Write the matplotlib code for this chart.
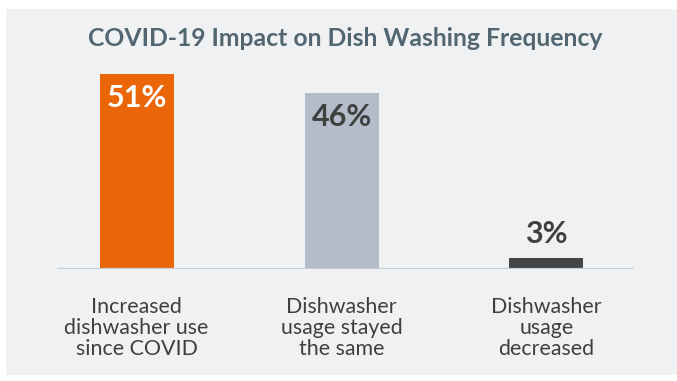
import matplotlib
matplotlib.use("Agg")
import matplotlib.pyplot as plt
from matplotlib.patches import Rectangle
import numpy as np

title = "COVID-19 Impact on Dish Washing Frequency"
categories = ["Increased\ndishwasher use\nsince COVID",
              "Dishwasher\nusage stayed\nthe same",
              "Dishwasher\nusage\ndecreased"]
values = [51, 46, 3]
value_labels = ["51%", "46%", "3%"]

bar_colors = ["#eb6608", "#b3bcc8", "#444547"]
label_colors = ["#ffffff", "#404040", "#404040"]
inside = [True, True, False]

W, H = 677, 381
fig = plt.figure(figsize=(W / 100, H / 100), dpi=100)
fig.patch.set_facecolor("white")

# panel background
fig.patches.append(Rectangle((6 / W, (H - 375) / H), 1 - 6 / W, (375 - 9) / H,
                             transform=fig.transFigure, facecolor="#f0f1f3",
                             edgecolor="none", zorder=-10))

ax_left, ax_right = 57, 634
ax_top, ax_bottom = 74, 269
ax = fig.add_axes([ax_left / W, (H - ax_bottom) / H,
                   (ax_right - ax_left) / W, (ax_bottom - ax_top) / H])
ax.set_zorder(5)
ax.set_facecolor("none")

x = np.arange(len(values))
ax.bar(x, values, width=0.361, color=bar_colors, zorder=2)
ax.axhline(0, color="#c5cdd8", lw=1.6, zorder=3)
ax.set_xlim(-0.388, 2.427)
ax.set_ylim(0, 51)

for xi, v, lab, c, ins in zip(x, values, value_labels, label_colors, inside):
    off = -23.8 if ins else 10.8
    ax.annotate(lab, (xi, v), xytext=(0, off), textcoords="offset points",
                ha="center", va="baseline", color=c, fontsize=22,
                fontfamily="Lato", fontweight="bold", annotation_clip=False)

ax.set_xticks(x)
ax.set_xticklabels(categories, fontfamily="Lato", fontsize=15.4,
                   color="#3f3f3f", linespacing=1.08)
ax.tick_params(axis="x", length=0, pad=20)
ax.set_yticks([])
for s in ax.spines.values():
    s.set_visible(False)

fig.text(345 / W, (H - 46) / H, title, ha="center", va="baseline",
         fontfamily="Lato", fontweight="bold", fontsize=17.8, color="#516671")

fig.savefig("out.png", dpi=100, facecolor="white")
